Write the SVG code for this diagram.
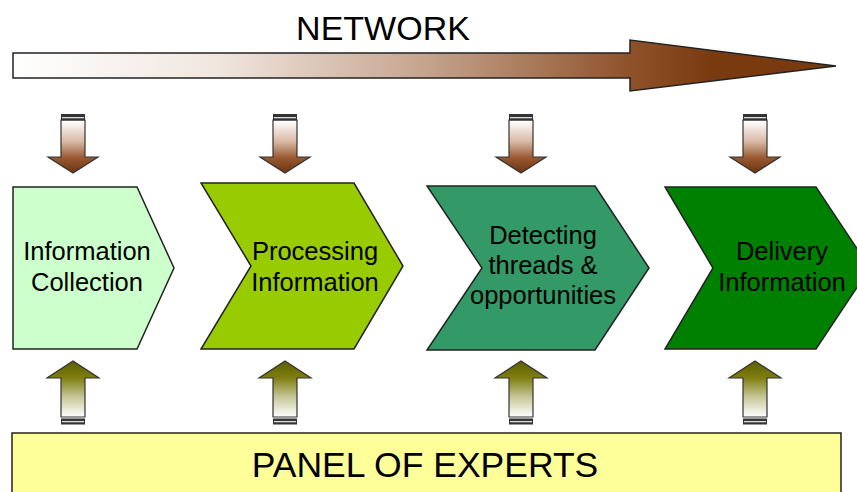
<svg xmlns="http://www.w3.org/2000/svg" width="857" height="492" viewBox="0 0 857 492">
<defs>
<linearGradient id="net" x1="13" y1="0" x2="836" y2="0" gradientUnits="userSpaceOnUse">
<stop offset="0" stop-color="#ffffff"/>
<stop offset="0.25" stop-color="#f0e6de"/>
<stop offset="0.5" stop-color="#c6a48e"/>
<stop offset="0.75" stop-color="#8e522a"/>
<stop offset="0.85" stop-color="#7a3a10"/>
<stop offset="1" stop-color="#7a3a10"/>
</linearGradient>
<linearGradient id="down" x1="0" y1="121" x2="0" y2="173" gradientUnits="userSpaceOnUse">
<stop offset="0" stop-color="#ffffff"/>
<stop offset="0.4" stop-color="#d8b8a4"/>
<stop offset="0.7" stop-color="#9a5a32"/>
<stop offset="1" stop-color="#6e3410"/>
</linearGradient>
<linearGradient id="up" x1="0" y1="361" x2="0" y2="417" gradientUnits="userSpaceOnUse">
<stop offset="0" stop-color="#5e5e00"/>
<stop offset="0.3" stop-color="#7e7e10"/>
<stop offset="0.65" stop-color="#c8c89a"/>
<stop offset="1" stop-color="#ffffff"/>
</linearGradient>
<g id="darr">
<path d="M-12,120 H12 V157 H25 L0,173 L-25,157 H-12 Z" fill="url(#down)" stroke="#333" stroke-width="1.2"/>
<rect x="-12" y="114" width="24" height="6.5" fill="#333"/>
<rect x="-11" y="117" width="22" height="1.3" fill="#ddd"/>
</g>
<g id="uarr">
<path d="M-12,417 H12 V378 H26 L0,361 L-26,378 H-12 Z" fill="url(#up)" stroke="#333" stroke-width="1.2"/>
<rect x="-12" y="418.5" width="24" height="6" fill="#333"/>
<rect x="-11" y="421" width="22" height="1.3" fill="#ddd"/>
</g>
</defs>
<style>
.t{font-family:"Liberation Sans",Arial,sans-serif;fill:#000;text-anchor:middle}
.n{font-size:25.5px}
.node{stroke:#222;stroke-width:1.5}
</style>
<rect width="857" height="492" fill="#fff"/>
<g id="network">
<path d="M13,53 H630 V40 L836,66 L630,91 V78 H13 Z" fill="url(#net)" stroke="#222" stroke-width="1.5"/>
<text class="t" x="383" y="40" font-size="34">NETWORK</text>
</g>
<g id="connectors">
<use href="#darr" x="73"/>
<use href="#darr" x="285"/>
<use href="#darr" x="521"/>
<use href="#darr" x="755"/>
<use href="#uarr" x="73"/>
<use href="#uarr" x="285"/>
<use href="#uarr" x="521"/>
<use href="#uarr" x="755"/>
</g>
<g id="n1">
<path class="node" d="M13,187 H137 L174,268 L137,349 H13 Z" fill="#ccffcc"/>
<text class="t n" x="87" y="260">Information</text>
<text class="t n" x="87" y="291">Collection</text>
</g>
<g id="n2">
<path class="node" d="M201,183 H354 L403,266 L354,349 H201 L251,266 Z" fill="#99cc00"/>
<text class="t n" x="315" y="260">Processing</text>
<text class="t n" x="315" y="291">Information</text>
</g>
<g id="n3">
<path class="node" d="M427,186 H595 L649,268 L595,350 H427 L482,268 Z" fill="#339966"/>
<text class="t n" x="543" y="244">Detecting</text>
<text class="t n" x="543" y="274">threads &amp;</text>
<text class="t n" x="543" y="304">opportunities</text>
</g>
<g id="n4">
<path class="node" d="M665,187 H816 L870,268 L816,349 H665 L713,268 Z" fill="#008000"/>
<text class="t n" x="782" y="260">Delivery</text>
<text class="t n" x="782" y="291">Information</text>
</g>
<g id="panel">
<rect class="node" x="12" y="433" width="829" height="70" fill="#ffff99"/>
<text class="t" x="425" y="477" font-size="35.5">PANEL OF EXPERTS</text>
</g>
</svg>
